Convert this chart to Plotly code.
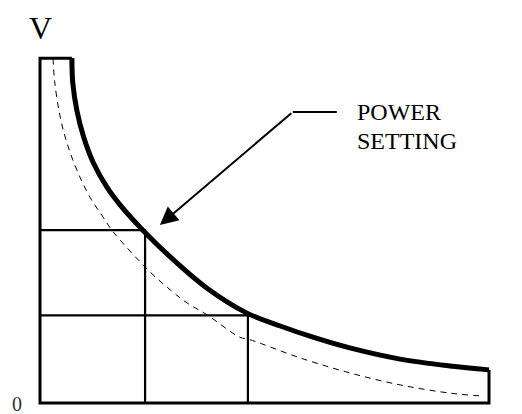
import plotly.graph_objects as go

# bold power-setting curve (T, V)
t_power = [0.71, 0.73, 0.82, 0.97, 1.19, 1.49, 1.82, 2.29, 2.95, 3.72, 4.61,
           5.35, 6.08, 6.90, 8.02, 9.13, 10.0]
v_power = [8.02, 7.44, 6.81, 6.19, 5.58, 5.02, 4.56, 4.02, 3.35, 2.67, 2.09,
           1.79, 1.53, 1.28, 1.02, 0.86, 0.77]

# dashed reference curve
t_ref = [0.29, 0.33, 0.45, 0.60, 0.82, 1.11, 1.40, 1.63, 2.45, 2.96, 3.27,
         3.72, 4.45, 4.68, 5.79, 6.90, 8.02, 9.13, 9.87]
v_ref = [8.02, 7.44, 6.65, 6.05, 5.42, 4.79, 4.33, 3.98, 3.05, 2.58, 2.33,
         2.05, 1.53, 1.47, 1.05, 0.70, 0.42, 0.23, 0.16]

# outline: top cap, left side, bottom, right side
t_box = [0.71, 0.0, 0.0, 10.0, 10.0]
v_box = [8.02, 8.02, 0.0, 0.0, 0.77]

# operating points on the curve
t_pts = [2.34, 4.63]
v_pts = [4.02, 2.04]

# arrow / leader
t_leader = [5.63, 6.61]
v_leader = [6.77, 6.77]
arrow_tip = (2.67, 4.14)

black = "#000000"
fig = go.Figure()

fig.add_trace(go.Scatter(x=t_ref, y=v_ref, mode="lines",
                         line=dict(color=black, width=1, dash="6px,5px"),
                         line_shape="spline", hoverinfo="skip"))

# grid lines from the operating points
grid_x, grid_y = [], []
for t, v in zip(t_pts, v_pts):
    grid_x += [0.0, t, t, None]
    grid_y += [v, v, 0.0, None]
fig.add_trace(go.Scatter(x=grid_x, y=grid_y, mode="lines",
                         line=dict(color=black, width=2.2), hoverinfo="skip"))

fig.add_trace(go.Scatter(x=t_box, y=v_box, mode="lines",
                         line=dict(color=black, width=3), hoverinfo="skip"))

fig.add_trace(go.Scatter(x=t_power, y=v_power, mode="lines",
                         line=dict(color=black, width=5, smoothing=1.0),
                         line_shape="spline", hoverinfo="skip"))

fig.add_trace(go.Scatter(x=t_leader, y=v_leader, mode="lines",
                         line=dict(color=black, width=2), hoverinfo="skip"))

serif = "Liberation Serif, DejaVu Serif, serif"
annotations = [
    dict(x=arrow_tip[0], y=arrow_tip[1], ax=t_leader[0], ay=v_leader[0],
         axref="x", ayref="y", xref="x", yref="y", text="", showarrow=True,
         arrowhead=2, arrowsize=1.8, arrowwidth=2, arrowcolor=black, standoff=0),
    dict(x=7.02, y=6.77, text="POWER", xanchor="left", yanchor="middle",
         showarrow=False, font=dict(family=serif, size=24, color=black)),
    dict(x=7.02, y=6.09, text="SETTING", xanchor="left", yanchor="middle",
         showarrow=False, font=dict(family=serif, size=24, color=black)),
    dict(x=0.02, y=8.72, text="V", xanchor="center", yanchor="middle",
         showarrow=False, font=dict(family=serif, size=32, color=black)),
    dict(x=-0.51, y=-0.02, text="0", xanchor="center", yanchor="middle",
         showarrow=False, font=dict(family=serif, size=20, color="#333333")),
    dict(x=10.65, y=-0.07, text="T", xanchor="left", yanchor="middle",
         showarrow=False, font=dict(family=serif, size=26, color=black)),
]

# the page body adds an 8px offset, so the ranges start 8px in
fig.update_layout(
    width=522, height=414, autosize=False,
    margin=dict(l=0, r=0, t=0, b=0),
    paper_bgcolor="white", plot_bgcolor="white",
    showlegend=False,
    xaxis=dict(range=[-0.713, 10.913], visible=False, fixedrange=True),
    yaxis=dict(range=[-0.442, 9.186], visible=False, fixedrange=True),
    annotations=annotations,
)

fig.write_html("out.html")
